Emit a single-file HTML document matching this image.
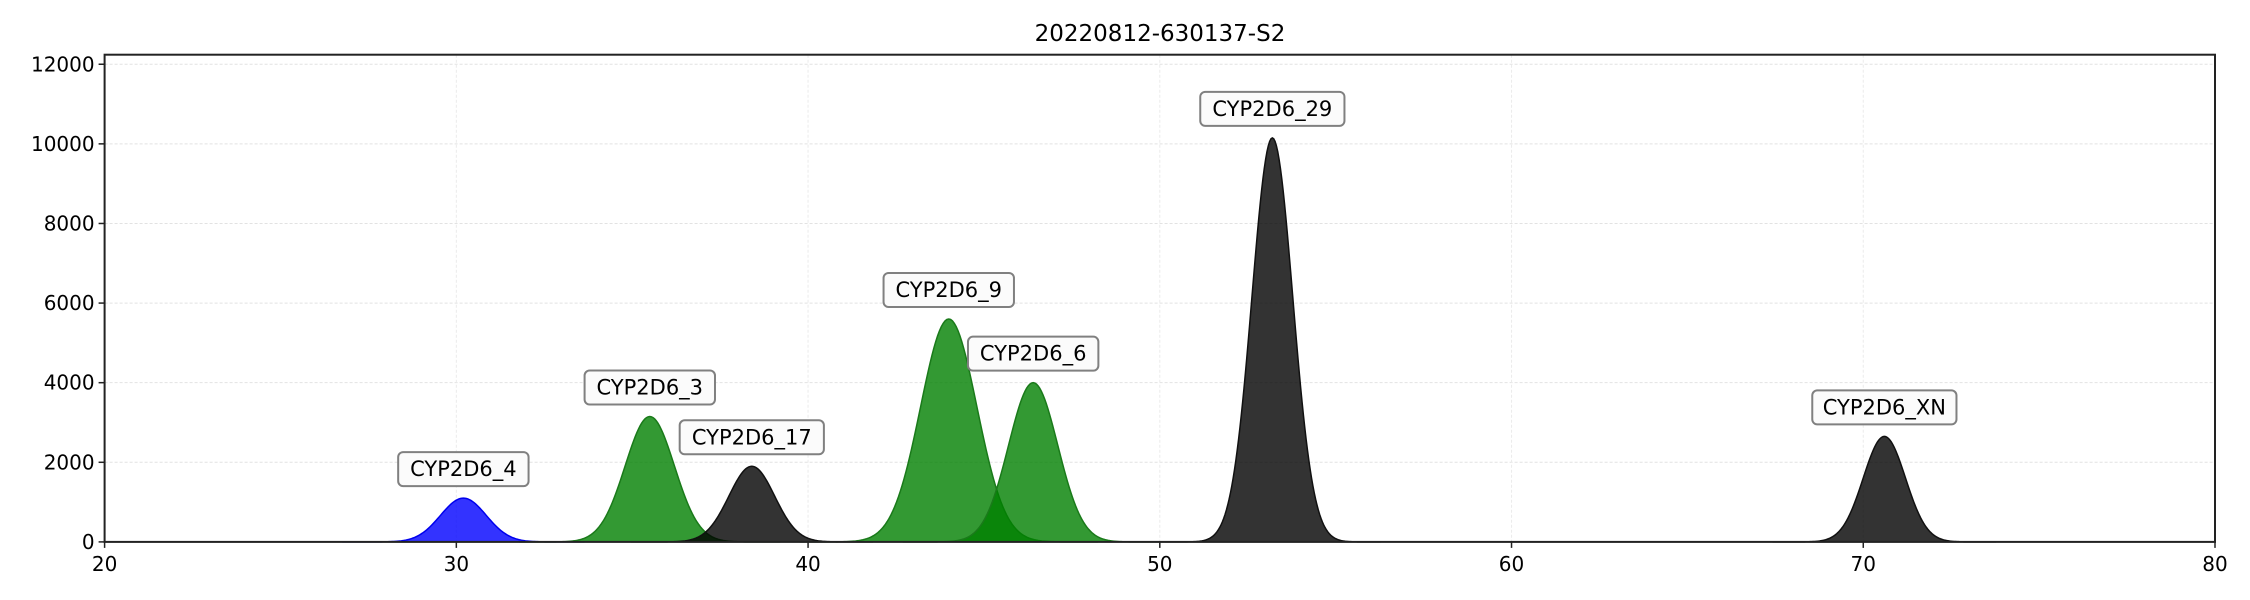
<!DOCTYPE html>
<html><head><meta charset="utf-8"><style>
html,body{margin:0;padding:0;background:#fff;}
svg{display:block;font-family:"DejaVu Sans","Liberation Sans",sans-serif;}
</style></head><body>
<svg id="chart" width="2250" height="600" viewBox="0 0 2250 600" xmlns="http://www.w3.org/2000/svg">
<text x="1160" y="41" font-size="23" text-anchor="middle">20220812-630137-S2</text>
<g id="grid"></g>
<g id="peaks"></g>
<g id="labels"></g>
<rect x="104.6" y="54.7" width="2110.4" height="487.2" fill="none" stroke="#222" stroke-width="2"/>
<g id="axes"></g>
</svg>
<script>
const peakNames = ["CYP2D6_4","CYP2D6_3","CYP2D6_17","CYP2D6_9","CYP2D6_6","CYP2D6_29","CYP2D6_XN"];
const peakCenters = [30.2, 35.5, 38.4, 44.0, 46.4, 53.2, 70.6];
const peakHeights = [1100, 3150, 1900, 5600, 4000, 10150, 2650];
const peakSigmas = [0.65, 0.7, 0.65, 0.8, 0.7, 0.58, 0.6];
const peakColors = ["blue","green","black","green","green","black","black"];
const xTicks = [20, 30, 40, 50, 60, 70, 80];
const yTicks = [0, 2000, 4000, 6000, 8000, 10000, 12000];

const X0=104.6, X1=2215, Y0=541.9, Y1=54.7, XMIN=20, XMAX=80, YMAX=12240;
const sx = v => X0 + (v-XMIN)/(XMAX-XMIN)*(X1-X0);
const sy = v => Y0 - v/YMAX*(Y0-Y1);
const NS="http://www.w3.org/2000/svg";
function mk(tag, attrs, parent){const e=document.createElementNS(NS,tag);for(const k in attrs)e.setAttribute(k,attrs[k]);parent.appendChild(e);return e;}
const grid=document.getElementById('grid'), axes=document.getElementById('axes'), pk=document.getElementById('peaks'), lb=document.getElementById('labels');

yTicks.forEach(t=>{
  const y=sy(t);
  const g=mk('line',{x1:X0,x2:X1,y1:y,y2:y,stroke:'#e2e2e2','stroke-width':1,'stroke-dasharray':'3,2'},grid);
  
  
  const tk=mk('line',{x1:X0-6,x2:X0,y1:y,y2:y,stroke:'#222','stroke-width':1.5},axes);
  
  
  const tx=mk('text',{x:X0-10,y:y+7,'font-size':20,'text-anchor':'end'},axes);
  tx.textContent=t;
  
  
});
xTicks.forEach(t=>{
  const x=sx(t);
  const g=mk('line',{x1:x,x2:x,y1:Y1,y2:Y0,stroke:'#ebebeb','stroke-width':1,'stroke-dasharray':'3,2'},grid);
  
  
  const tk=mk('line',{x1:x,x2:x,y1:Y0,y2:Y0+6,stroke:'#222','stroke-width':1.5},axes);
  
  
  const tx=mk('text',{x:x,y:Y0+29,'font-size':20,'text-anchor':'middle'},axes);
  tx.textContent=t;
  
  
});

const fills={blue:'rgba(0,0,255,0.8)',green:'rgba(0,128,0,0.8)',black:'rgba(0,0,0,0.8)'};
const edges={blue:'#0000ee',green:'#1a7a1a',black:'#111'};
peakNames.forEach((n,i)=>{
  const c=peakCenters[i], h=peakHeights[i], s=peakSigmas[i];
  const a=c-5.3*s, b=c+5.3*s, N=160;
  let top='';
  for(let k=0;k<=N;k++){const x=a+(b-a)*k/N;const y=h*Math.exp(-0.5*((x-c)/s)**2);top+=(k?'L':'M')+sx(x).toFixed(2)+','+sy(y).toFixed(2);}
  const area=mk('path',{d:top+'L'+sx(b).toFixed(2)+','+Y0+'L'+sx(a).toFixed(2)+','+Y0+'Z',fill:fills[peakColors[i]],stroke:'none'},pk);
  
  
  const line=mk('path',{d:top,fill:'none',stroke:edges[peakColors[i]],'stroke-width':1.5},pk);
  
  
  const cx=sx(c), cy=sy(h)-29;
  const g=mk('g',{},lb);
  
  
  const w=n.length*13.8+20;
  mk('rect',{x:cx-w/2,y:cy-17,width:w,height:34,rx:5,fill:'#fbfbfb',stroke:'#808080','stroke-width':2},g);
  const t=mk('text',{x:cx,y:cy+7,'font-size':21,'text-anchor':'middle'},g);
  t.textContent=n;
});
</script>
</body></html>
